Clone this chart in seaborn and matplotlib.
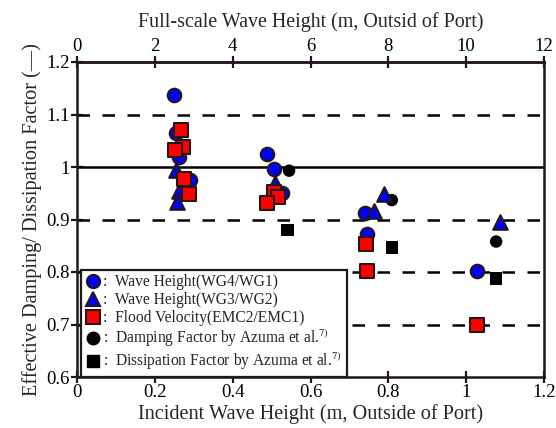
import matplotlib
matplotlib.use("Agg")
import matplotlib.pyplot as plt
import seaborn as sns
import pandas as pd
from matplotlib.lines import Line2D

sns.set_theme(style="white")
plt.rcParams["font.family"] = ["Liberation Serif", "DejaVu Serif"]
plt.rcParams["mathtext.fontset"] = "stix"

# ---- data ----
wg41_x = [0.249, 0.255, 0.262, 0.290, 0.488, 0.505, 0.526, 0.740, 0.745, 1.027]
wg41_y = [1.138, 1.065, 1.020, 0.975, 1.025, 0.996, 0.950, 0.913, 0.872, 0.801]

wg32_x = [0.255, 0.262, 0.257, 0.509, 0.764, 0.788, 1.087]
wg32_y = [0.994, 0.955, 0.933, 0.970, 0.917, 0.949, 0.896]

emc_x = [0.267, 0.272, 0.252, 0.275, 0.288, 0.505, 0.516, 0.489, 0.743, 0.745, 1.027]
emc_y = [1.070, 1.039, 1.032, 0.977, 0.949, 0.953, 0.942, 0.931, 0.853, 0.801, 0.699]

damp_x = [0.545, 0.809, 1.077]
damp_y = [0.993, 0.937, 0.858]

diss_x = [0.541, 0.809, 1.077]
diss_y = [0.880, 0.847, 0.788]

labels = [
    ":  Wave Height(WG4/WG1)",
    ":  Wave Height(WG3/WG2)",
    ":  Flood Velocity(EMC2/EMC1)",
    r":  Damping Factor by Azuma et al.$^{7)}$",
    r":  Dissipation Factor by Azuma et al.$^{7)}$",
]

edge = "#231815"

fig = plt.figure(figsize=(5.56, 4.28), dpi=100)
ax = fig.add_axes([77/556, 51/428, 467/556, 315/428])

series = [
    (damp_x, damp_y, "o", "black", "none", 80),
    (diss_x, diss_y, "s", "black", "none", 80),
    (wg41_x, wg41_y, "o", "#0000ff", edge, 95),
    (wg32_x, wg32_y, "^", "#0000ff", edge, 110),
    (emc_x, emc_y, "s", "#ff0000", edge, 95),
]
for xs, ys, m, c, ec, s in series:
    df = pd.DataFrame({"x": xs, "y": ys})
    sns.scatterplot(data=df, x="x", y="y", marker=m, color=c, edgecolor=ec,
                    linewidth=1.5, s=s, ax=ax, zorder=3, legend=False)

for yv in [0.7, 0.8, 0.9, 1.1]:
    ax.axhline(yv, color="black", lw=1.8, ls=(0, (5, 5)), zorder=1)
ax.axhline(1.0, color="black", lw=1.8, zorder=1)

ax.set_xlim(0, 1.2)
ax.set_ylim(0.6, 1.2)
ax.set_xticks([0, 0.2, 0.4, 0.6, 0.8, 1.0, 1.2])
ax.set_xticklabels(["0", "0.2", "0.4", "0.6", "0.8", "1", "1.2"])
ax.set_yticks([0.6, 0.7, 0.8, 0.9, 1.0, 1.1, 1.2])
ax.set_yticklabels(["0.6", "0.7", "0.8", "0.9", "1", "1.1", "1.2"])
ax.tick_params(axis="both", direction="inout", length=8, width=1.6,
               colors=edge, labelcolor="black", labelsize=13.5, pad=1)
ax.tick_params(axis="y", right=False, left=True)
ax.tick_params(axis="x", top=False, bottom=True)
for sp in ax.spines.values():
    sp.set_color(edge)
    sp.set_linewidth(1.8)
ax.set_xlabel("Incident Wave Height (m, Outside of Port)", fontsize=14.6, labelpad=2)
ax.set_ylabel("Effective Damping/ Dissipation Factor (\u2014)", fontsize=14.6, labelpad=3)

sec = ax.secondary_xaxis("top", functions=(lambda v: v * 10, lambda v: v / 10))
sec.set_xticks([0, 2, 4, 6, 8, 10, 12])
sec.set_xticklabels(["0", "2", "4", "6", "8", "10", "12"])
sec.tick_params(direction="inout", length=8, width=1.6, colors=edge,
                labelcolor="black", labelsize=13.5, pad=1)
sec.spines["top"].set_color(edge)
sec.spines["top"].set_linewidth(1.8)
sec.set_xlabel("Full-scale Wave Height (m, Outsid of Port)", fontsize=14.4, labelpad=8)

handles = [
    Line2D([], [], ls="none", marker="o", ms=9.5, mfc="#0000ff", mec=edge, mew=1.5),
    Line2D([], [], ls="none", marker="^", ms=10, mfc="#0000ff", mec=edge, mew=1.5),
    Line2D([], [], ls="none", marker="s", ms=9.5, mfc="#ff0000", mec=edge, mew=1.5),
    Line2D([], [], ls="none", marker="o", ms=9, mfc="black", mec="black"),
    Line2D([], [], ls="none", marker="s", ms=9, mfc="black", mec="black"),
]
leg = ax.legend(handles, labels, loc="lower left", bbox_to_anchor=(0.009, 0.0),
                borderaxespad=0, frameon=True, fancybox=False, fontsize=11.2,
                framealpha=1, facecolor="white",
                handlelength=0.9, handletextpad=0.2, labelspacing=0.12,
                borderpad=0.3)
leg.get_frame().set_edgecolor(edge)
leg.get_frame().set_linewidth(1.6)
leg.set_zorder(5)

fig.savefig("out.png", dpi=100)
